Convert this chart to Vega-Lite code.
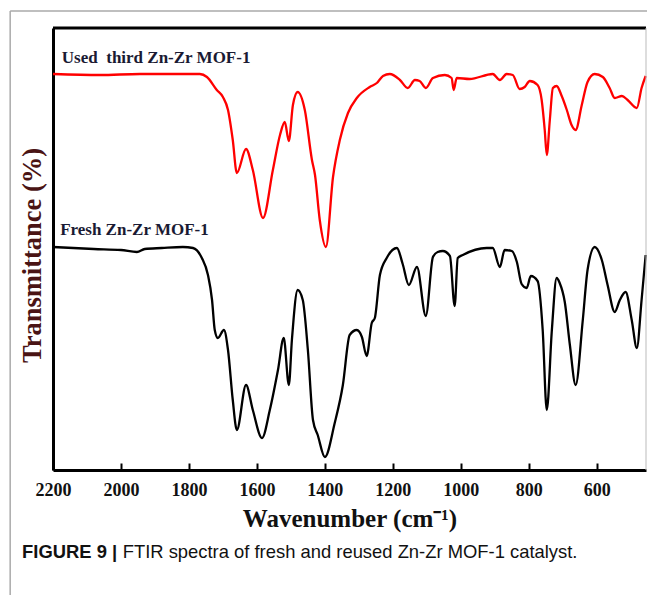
{
  "$schema": "https://vega.github.io/schema/vega-lite/v6.json",
  "width": 593,
  "height": 442,
  "autosize": "none",
  "padding": {"left": 53, "top": 28, "right": 1, "bottom": 125},
  "background": "white",
  "config": {"view": {"stroke": null}},
  "datasets": {
    "spectra": [
      {"wn": 2200, "t": 396, "s": "Used third Zn-Zr MOF-1"},
      {"wn": 2062, "t": 395, "s": "Used third Zn-Zr MOF-1"},
      {"wn": 1944, "t": 396, "s": "Used third Zn-Zr MOF-1"},
      {"wn": 1768, "t": 396, "s": "Used third Zn-Zr MOF-1"},
      {"wn": 1747, "t": 393, "s": "Used third Zn-Zr MOF-1"},
      {"wn": 1718, "t": 380, "s": "Used third Zn-Zr MOF-1"},
      {"wn": 1700, "t": 373, "s": "Used third Zn-Zr MOF-1"},
      {"wn": 1685, "t": 360, "s": "Used third Zn-Zr MOF-1"},
      {"wn": 1671, "t": 330, "s": "Used third Zn-Zr MOF-1"},
      {"wn": 1659, "t": 297, "s": "Used third Zn-Zr MOF-1"},
      {"wn": 1632, "t": 321, "s": "Used third Zn-Zr MOF-1"},
      {"wn": 1612, "t": 300, "s": "Used third Zn-Zr MOF-1"},
      {"wn": 1582, "t": 252, "s": "Used third Zn-Zr MOF-1"},
      {"wn": 1553, "t": 300, "s": "Used third Zn-Zr MOF-1"},
      {"wn": 1532, "t": 335, "s": "Used third Zn-Zr MOF-1"},
      {"wn": 1518, "t": 348, "s": "Used third Zn-Zr MOF-1"},
      {"wn": 1506, "t": 329, "s": "Used third Zn-Zr MOF-1"},
      {"wn": 1494, "t": 365, "s": "Used third Zn-Zr MOF-1"},
      {"wn": 1480, "t": 378, "s": "Used third Zn-Zr MOF-1"},
      {"wn": 1459, "t": 360, "s": "Used third Zn-Zr MOF-1"},
      {"wn": 1438, "t": 310, "s": "Used third Zn-Zr MOF-1"},
      {"wn": 1429, "t": 295, "s": "Used third Zn-Zr MOF-1"},
      {"wn": 1415, "t": 250, "s": "Used third Zn-Zr MOF-1"},
      {"wn": 1397, "t": 223, "s": "Used third Zn-Zr MOF-1"},
      {"wn": 1376, "t": 293, "s": "Used third Zn-Zr MOF-1"},
      {"wn": 1356, "t": 330, "s": "Used third Zn-Zr MOF-1"},
      {"wn": 1332, "t": 357, "s": "Used third Zn-Zr MOF-1"},
      {"wn": 1306, "t": 372, "s": "Used third Zn-Zr MOF-1"},
      {"wn": 1268, "t": 383, "s": "Used third Zn-Zr MOF-1"},
      {"wn": 1247, "t": 387, "s": "Used third Zn-Zr MOF-1"},
      {"wn": 1229, "t": 394, "s": "Used third Zn-Zr MOF-1"},
      {"wn": 1209, "t": 396, "s": "Used third Zn-Zr MOF-1"},
      {"wn": 1179, "t": 390, "s": "Used third Zn-Zr MOF-1"},
      {"wn": 1156, "t": 382, "s": "Used third Zn-Zr MOF-1"},
      {"wn": 1135, "t": 390, "s": "Used third Zn-Zr MOF-1"},
      {"wn": 1121, "t": 389, "s": "Used third Zn-Zr MOF-1"},
      {"wn": 1103, "t": 382, "s": "Used third Zn-Zr MOF-1"},
      {"wn": 1082, "t": 392, "s": "Used third Zn-Zr MOF-1"},
      {"wn": 1047, "t": 395, "s": "Used third Zn-Zr MOF-1"},
      {"wn": 1027, "t": 392, "s": "Used third Zn-Zr MOF-1"},
      {"wn": 1021, "t": 380, "s": "Used third Zn-Zr MOF-1"},
      {"wn": 1012, "t": 392, "s": "Used third Zn-Zr MOF-1"},
      {"wn": 974, "t": 391, "s": "Used third Zn-Zr MOF-1"},
      {"wn": 906, "t": 396, "s": "Used third Zn-Zr MOF-1"},
      {"wn": 885, "t": 390, "s": "Used third Zn-Zr MOF-1"},
      {"wn": 865, "t": 396, "s": "Used third Zn-Zr MOF-1"},
      {"wn": 847, "t": 395, "s": "Used third Zn-Zr MOF-1"},
      {"wn": 827, "t": 381, "s": "Used third Zn-Zr MOF-1"},
      {"wn": 812, "t": 383, "s": "Used third Zn-Zr MOF-1"},
      {"wn": 797, "t": 389, "s": "Used third Zn-Zr MOF-1"},
      {"wn": 774, "t": 385, "s": "Used third Zn-Zr MOF-1"},
      {"wn": 762, "t": 370, "s": "Used third Zn-Zr MOF-1"},
      {"wn": 753, "t": 340, "s": "Used third Zn-Zr MOF-1"},
      {"wn": 747, "t": 315, "s": "Used third Zn-Zr MOF-1"},
      {"wn": 738, "t": 350, "s": "Used third Zn-Zr MOF-1"},
      {"wn": 729, "t": 382, "s": "Used third Zn-Zr MOF-1"},
      {"wn": 718, "t": 384, "s": "Used third Zn-Zr MOF-1"},
      {"wn": 703, "t": 374, "s": "Used third Zn-Zr MOF-1"},
      {"wn": 688, "t": 360, "s": "Used third Zn-Zr MOF-1"},
      {"wn": 674, "t": 345, "s": "Used third Zn-Zr MOF-1"},
      {"wn": 662, "t": 340, "s": "Used third Zn-Zr MOF-1"},
      {"wn": 644, "t": 365, "s": "Used third Zn-Zr MOF-1"},
      {"wn": 627, "t": 388, "s": "Used third Zn-Zr MOF-1"},
      {"wn": 606, "t": 396, "s": "Used third Zn-Zr MOF-1"},
      {"wn": 582, "t": 393, "s": "Used third Zn-Zr MOF-1"},
      {"wn": 562, "t": 382, "s": "Used third Zn-Zr MOF-1"},
      {"wn": 547, "t": 372, "s": "Used third Zn-Zr MOF-1"},
      {"wn": 526, "t": 374, "s": "Used third Zn-Zr MOF-1"},
      {"wn": 509, "t": 370, "s": "Used third Zn-Zr MOF-1"},
      {"wn": 482, "t": 362, "s": "Used third Zn-Zr MOF-1"},
      {"wn": 468, "t": 382, "s": "Used third Zn-Zr MOF-1"},
      {"wn": 456, "t": 394, "s": "Used third Zn-Zr MOF-1"},
      {"wn": 2200, "t": 223, "s": "Fresh Zn-Zr MOF-1"},
      {"wn": 2080, "t": 221, "s": "Fresh Zn-Zr MOF-1"},
      {"wn": 2000, "t": 220, "s": "Fresh Zn-Zr MOF-1"},
      {"wn": 1953, "t": 218, "s": "Fresh Zn-Zr MOF-1"},
      {"wn": 1930, "t": 221, "s": "Fresh Zn-Zr MOF-1"},
      {"wn": 1880, "t": 222, "s": "Fresh Zn-Zr MOF-1"},
      {"wn": 1818, "t": 223, "s": "Fresh Zn-Zr MOF-1"},
      {"wn": 1788, "t": 222, "s": "Fresh Zn-Zr MOF-1"},
      {"wn": 1762, "t": 212, "s": "Fresh Zn-Zr MOF-1"},
      {"wn": 1744, "t": 195, "s": "Fresh Zn-Zr MOF-1"},
      {"wn": 1732, "t": 170, "s": "Fresh Zn-Zr MOF-1"},
      {"wn": 1724, "t": 140, "s": "Fresh Zn-Zr MOF-1"},
      {"wn": 1715, "t": 132, "s": "Fresh Zn-Zr MOF-1"},
      {"wn": 1697, "t": 140, "s": "Fresh Zn-Zr MOF-1"},
      {"wn": 1685, "t": 120, "s": "Fresh Zn-Zr MOF-1"},
      {"wn": 1671, "t": 70, "s": "Fresh Zn-Zr MOF-1"},
      {"wn": 1659, "t": 40, "s": "Fresh Zn-Zr MOF-1"},
      {"wn": 1632, "t": 85, "s": "Fresh Zn-Zr MOF-1"},
      {"wn": 1612, "t": 60, "s": "Fresh Zn-Zr MOF-1"},
      {"wn": 1585, "t": 32, "s": "Fresh Zn-Zr MOF-1"},
      {"wn": 1562, "t": 60, "s": "Fresh Zn-Zr MOF-1"},
      {"wn": 1538, "t": 100, "s": "Fresh Zn-Zr MOF-1"},
      {"wn": 1521, "t": 132, "s": "Fresh Zn-Zr MOF-1"},
      {"wn": 1506, "t": 85, "s": "Fresh Zn-Zr MOF-1"},
      {"wn": 1497, "t": 130, "s": "Fresh Zn-Zr MOF-1"},
      {"wn": 1480, "t": 180, "s": "Fresh Zn-Zr MOF-1"},
      {"wn": 1465, "t": 170, "s": "Fresh Zn-Zr MOF-1"},
      {"wn": 1450, "t": 120, "s": "Fresh Zn-Zr MOF-1"},
      {"wn": 1435, "t": 50, "s": "Fresh Zn-Zr MOF-1"},
      {"wn": 1421, "t": 35, "s": "Fresh Zn-Zr MOF-1"},
      {"wn": 1400, "t": 13, "s": "Fresh Zn-Zr MOF-1"},
      {"wn": 1371, "t": 47, "s": "Fresh Zn-Zr MOF-1"},
      {"wn": 1347, "t": 85, "s": "Fresh Zn-Zr MOF-1"},
      {"wn": 1327, "t": 135, "s": "Fresh Zn-Zr MOF-1"},
      {"wn": 1306, "t": 140, "s": "Fresh Zn-Zr MOF-1"},
      {"wn": 1291, "t": 133, "s": "Fresh Zn-Zr MOF-1"},
      {"wn": 1277, "t": 114, "s": "Fresh Zn-Zr MOF-1"},
      {"wn": 1262, "t": 147, "s": "Fresh Zn-Zr MOF-1"},
      {"wn": 1253, "t": 152, "s": "Fresh Zn-Zr MOF-1"},
      {"wn": 1238, "t": 195, "s": "Fresh Zn-Zr MOF-1"},
      {"wn": 1218, "t": 212, "s": "Fresh Zn-Zr MOF-1"},
      {"wn": 1188, "t": 222, "s": "Fresh Zn-Zr MOF-1"},
      {"wn": 1171, "t": 206, "s": "Fresh Zn-Zr MOF-1"},
      {"wn": 1153, "t": 185, "s": "Fresh Zn-Zr MOF-1"},
      {"wn": 1129, "t": 203, "s": "Fresh Zn-Zr MOF-1"},
      {"wn": 1103, "t": 154, "s": "Fresh Zn-Zr MOF-1"},
      {"wn": 1082, "t": 213, "s": "Fresh Zn-Zr MOF-1"},
      {"wn": 1068, "t": 218, "s": "Fresh Zn-Zr MOF-1"},
      {"wn": 1053, "t": 219, "s": "Fresh Zn-Zr MOF-1"},
      {"wn": 1032, "t": 214, "s": "Fresh Zn-Zr MOF-1"},
      {"wn": 1018, "t": 164, "s": "Fresh Zn-Zr MOF-1"},
      {"wn": 1009, "t": 212, "s": "Fresh Zn-Zr MOF-1"},
      {"wn": 994, "t": 215, "s": "Fresh Zn-Zr MOF-1"},
      {"wn": 924, "t": 222, "s": "Fresh Zn-Zr MOF-1"},
      {"wn": 906, "t": 222, "s": "Fresh Zn-Zr MOF-1"},
      {"wn": 885, "t": 203, "s": "Fresh Zn-Zr MOF-1"},
      {"wn": 871, "t": 220, "s": "Fresh Zn-Zr MOF-1"},
      {"wn": 850, "t": 219, "s": "Fresh Zn-Zr MOF-1"},
      {"wn": 835, "t": 208, "s": "Fresh Zn-Zr MOF-1"},
      {"wn": 821, "t": 186, "s": "Fresh Zn-Zr MOF-1"},
      {"wn": 806, "t": 182, "s": "Fresh Zn-Zr MOF-1"},
      {"wn": 794, "t": 194, "s": "Fresh Zn-Zr MOF-1"},
      {"wn": 774, "t": 189, "s": "Fresh Zn-Zr MOF-1"},
      {"wn": 759, "t": 140, "s": "Fresh Zn-Zr MOF-1"},
      {"wn": 747, "t": 60, "s": "Fresh Zn-Zr MOF-1"},
      {"wn": 732, "t": 140, "s": "Fresh Zn-Zr MOF-1"},
      {"wn": 718, "t": 192, "s": "Fresh Zn-Zr MOF-1"},
      {"wn": 709, "t": 187, "s": "Fresh Zn-Zr MOF-1"},
      {"wn": 694, "t": 168, "s": "Fresh Zn-Zr MOF-1"},
      {"wn": 679, "t": 125, "s": "Fresh Zn-Zr MOF-1"},
      {"wn": 662, "t": 85, "s": "Fresh Zn-Zr MOF-1"},
      {"wn": 641, "t": 150, "s": "Fresh Zn-Zr MOF-1"},
      {"wn": 627, "t": 200, "s": "Fresh Zn-Zr MOF-1"},
      {"wn": 606, "t": 223, "s": "Fresh Zn-Zr MOF-1"},
      {"wn": 585, "t": 210, "s": "Fresh Zn-Zr MOF-1"},
      {"wn": 568, "t": 185, "s": "Fresh Zn-Zr MOF-1"},
      {"wn": 547, "t": 158, "s": "Fresh Zn-Zr MOF-1"},
      {"wn": 532, "t": 170, "s": "Fresh Zn-Zr MOF-1"},
      {"wn": 515, "t": 178, "s": "Fresh Zn-Zr MOF-1"},
      {"wn": 497, "t": 150, "s": "Fresh Zn-Zr MOF-1"},
      {"wn": 482, "t": 122, "s": "Fresh Zn-Zr MOF-1"},
      {"wn": 468, "t": 170, "s": "Fresh Zn-Zr MOF-1"},
      {"wn": 456, "t": 215, "s": "Fresh Zn-Zr MOF-1"}
    ],
    "single": [{}]
  },
  "layer": [
    {
      "data": {"name": "spectra"},
      "mark": {"type": "line", "interpolate": "monotone", "strokeWidth": 2.3},
      "encoding": {
        "x": {
          "field": "wn", "type": "quantitative",
          "scale": {"domain": [455, 2200], "reverse": true, "nice": false, "zero": false},
          "axis": {
            "values": [2200, 2000, 1800, 1600, 1400, 1200, 1000, 800, 600],
            "format": "d",
            "tickSize": -7, "tickWidth": 2, "tickColor": "#000000",
            "domainWidth": 3, "domainColor": "#000000",
            "labelFont": "Liberation Serif", "labelFontSize": 18, "labelFontWeight": "bold",
            "labelColor": "#111111", "labelPadding": 18, "labelFlush": false, "labelOverlap": false,
            "grid": false,
            "title": "Wavenumber  (cm⁻¹)",
            "titleFont": "Liberation Serif", "titleFontSize": 25, "titleFontWeight": "bold",
            "titleColor": "#111111", "titlePadding": 7
          }
        },
        "y": {
          "field": "t", "type": "quantitative",
          "scale": {"domain": [0, 442], "nice": false, "zero": false},
          "axis": {
            "ticks": false, "labels": false, "grid": false,
            "domainWidth": 3, "domainColor": "#000000",
            "title": "Transmittance  (%)",
            "titleFont": "Liberation Serif", "titleFontSize": 26.5, "titleFontWeight": "bold",
            "titleColor": "#4a1414", "titleX": -21, "titleY": 227,
            "titleBaseline": "middle", "titleAlign": "center", "titleAngle": -90
          }
        },
        "color": {
          "field": "s", "type": "nominal",
          "scale": {"domain": ["Used third Zn-Zr MOF-1", "Fresh Zn-Zr MOF-1"], "range": ["#ff0000", "#000000"]},
          "legend": null
        },
        "order": {"field": "wn", "sort": "descending"}
      }
    },
    {
      "data": {"name": "single"},
      "mark": {"type": "rule", "color": "#000000", "strokeWidth": 3},
      "encoding": {"y": {"datum": 442}}
    },
    {
      "data": {"name": "single"},
      "mark": {"type": "rule", "color": "#bbbbbb", "strokeWidth": 1},
      "encoding": {"x": {"datum": 455}}
    },
    {
      "data": {"name": "single"},
      "mark": {"type": "rule", "color": "#aaaaaa", "strokeWidth": 1.5},
      "encoding": {"x": {"datum": 2326}, "y": {"datum": 459}, "y2": {"datum": -125}}
    },
    {
      "data": {"name": "single"},
      "mark": {"type": "rule", "color": "#aaaaaa", "strokeWidth": 1.5},
      "encoding": {"x": {"datum": 2326}, "x2": {"datum": 450}, "y": {"datum": 459}}
    },
    {
      "data": {"name": "single"},
      "mark": {"type": "text", "align": "left", "baseline": "middle", "font": "Liberation Serif", "fontSize": 17, "fontWeight": "bold", "color": "#1a1a33"},
      "encoding": {"x": {"datum": 2174}, "y": {"datum": 412}, "text": {"value": "Used\u00a0 third Zn-Zr MOF-1"}}
    },
    {
      "data": {"name": "single"},
      "mark": {"type": "text", "align": "left", "baseline": "middle", "font": "Liberation Serif", "fontSize": 17, "fontWeight": "bold", "color": "#1a1a33"},
      "encoding": {"x": {"datum": 2179}, "y": {"datum": 240}, "text": {"value": "Fresh Zn-Zr MOF-1"}}
    },
    {
      "data": {"name": "single"},
      "mark": {"type": "text", "align": "left", "baseline": "middle", "font": "Liberation Sans", "fontSize": 18.4, "fontWeight": "bold", "color": "#111111"},
      "encoding": {"x": {"datum": 2291}, "y": {"datum": -82}, "text": {"value": "FIGURE 9 |"}}
    },
    {
      "data": {"name": "single"},
      "mark": {"type": "text", "align": "left", "baseline": "middle", "font": "Liberation Sans", "fontSize": 18.4, "fontWeight": "normal", "color": "#111111"},
      "encoding": {"x": {"datum": 1995}, "y": {"datum": -82}, "text": {"value": "FTIR spectra of fresh and reused Zn-Zr MOF-1 catalyst."}}
    }
  ]
}
